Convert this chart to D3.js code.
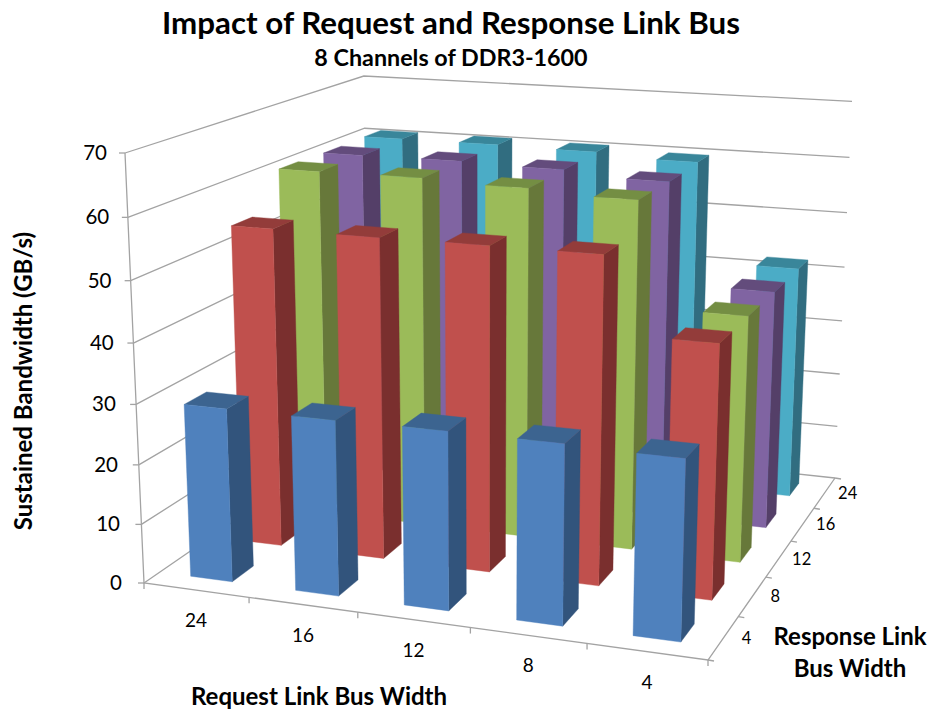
<!DOCTYPE html>
<html>
<head>
<meta charset="utf-8">
<script src="https://cdnjs.cloudflare.com/ajax/libs/d3/7.8.5/d3.min.js"></script>
<style>
html,body{margin:0;padding:0;background:#fff}
text{font-family:Lato,"Open Sans",sans-serif;fill:#000}
</style>
</head>
<body>
<svg id="chart" width="932" height="711"></svg>
<script>
// Category labels along the two floor axes
const requestWidths = ["24", "16", "12", "8", "4"];
const responseWidths = ["4", "8", "12", "16", "24"];
const valueTicks = [0, 10, 20, 30, 40, 50, 60, 70];

// Sustained bandwidth (GB/s), one list per response link width, ordered by request width
const response4 = [29.1, 29.1, 29.3, 29.3, 29];
const response8 = [54.5, 54.4, 54.5, 54.5, 42];
const response12 = [60.8, 60.9, 60.4, 59.7, 42];
const response16 = [60.6, 60.7, 60.4, 59.5, 41.9];
const response24 = [60.7, 60.7, 60.5, 59.8, 42];
const seriesValues = [response4, response8, response12, response16, response24];

// Face colours per series: front, side, top
const seriesColors = [
  ["#4f81bd", "#32547c", "#3c6490"],
  ["#c0504d", "#7a2f2e", "#933c3a"],
  ["#9bbb59", "#67783a", "#748e43"],
  ["#8064a2", "#543f68", "#634c7c"],
  ["#4bacc6", "#316d80", "#39869a"]
];

// Image positions of the plot box corners, used to set up the perspective
const cornerOrigin = [144, 583];
const cornerRight = [708, 660];
const cornerBack = [369, 428];
const cornerTop = [125, 153];
const cornerFloorFar = [835, 478];
const cornerTopFar = [852, 100];

function makeProjection(O, U, V, W, R, T) {
  // Denominator terms come from the far floor corner and the far top corner
  const a1 = R[0] - U[0], b1 = R[0] - V[0], c1 = U[0] + V[0] - O[0] - R[0];
  const a2 = R[1] - U[1], b2 = R[1] - V[1], c2 = U[1] + V[1] - O[1] - R[1];
  const det = a1 * b2 - a2 * b1;
  const i = (c1 * b2 - c2 * b1) / det;
  const j = (a1 * c2 - a2 * c1) / det;
  const k = (U[0] * (i + 1) + V[0] * (j + 1) + W[0] - 2 * O[0] - T[0] * (i + j + 1)) / (T[0] - W[0]);
  const row = d => [
    U[d] * (i + 1) - O[d],
    V[d] * (j + 1) - O[d],
    W[d] * (k + 1) - O[d],
    O[d]
  ];
  const px = row(0), py = row(1);
  return (u, v, w) => {
    const q = i * u + j * v + k * w + 1;
    return [
      (px[0] * u + px[1] * v + px[2] * w + px[3]) / q,
      (py[0] * u + py[1] * v + py[2] * w + py[3]) / q
    ];
  };
}

const project = makeProjection(cornerOrigin, cornerRight, cornerBack, cornerTop, cornerFloorFar, cornerTopFar);

const uScale = d3.scaleBand().domain(d3.range(requestWidths.length)).range([0, 1]);
const vScale = d3.scaleBand().domain(d3.range(responseWidths.length)).range([0, 1]);
const wScale = d3.scaleLinear().domain([0, 70]).range([0, 1]);

const barWidth = uScale.bandwidth() * 0.4;
const barDepth = vScale.bandwidth() * 0.42;

const svg = d3.select("#chart");
const polyline = d3.line();
const gridColor = "#a3a3a3";

// Walls: each gridline runs along the left wall and then across the back wall
const grid = svg.append("g").attr("fill", "none").attr("stroke", gridColor).attr("stroke-width", 1.3);
valueTicks.forEach(t => {
  const w = wScale(t);
  grid.append("path").attr("d", polyline([project(0, 0, w), project(0, 1, w), project(1, 1, w)]));
  const p = project(0, 0, w);
  grid.append("path").attr("d", polyline([[p[0] - 6, p[1]], p]));
});

// Axis lines and tick marks
const axes = svg.append("g").attr("fill", "none").attr("stroke", gridColor).attr("stroke-width", 1.3);
axes.append("path").attr("d", polyline([project(0, 0, 1), project(0, 0, 0), project(1, 0, 0), project(1, 1, 0)]));
d3.range(requestWidths.length + 1).forEach(n => {
  const p = project(n / requestWidths.length, 0, 0);
  axes.append("path").attr("d", polyline([p, [p[0], p[1] + 6]]));
});
d3.range(responseWidths.length + 1).forEach(n => {
  const p = project(1, n / responseWidths.length, 0);
  axes.append("path").attr("d", polyline([p, [p[0] + 6, p[1] + 1]]));
});

// Columns, painted from the back row forward and left to right
const bars = svg.append("g");
d3.range(responseWidths.length).reverse().forEach(s => {
  requestWidths.forEach((_, c) => {
    const u0 = uScale(c) + (uScale.bandwidth() - barWidth) / 2, u1 = u0 + barWidth;
    const v0 = vScale(s) + (vScale.bandwidth() - barDepth) / 2, v1 = v0 + barDepth;
    const h = wScale(seriesValues[s][c]);
    const [front, side, top] = seriesColors[s];
    const face = (pts, fill) => bars.append("path")
      .attr("d", polyline(pts) + "Z").attr("fill", fill).attr("stroke", fill).attr("stroke-width", 0.4);
    face([project(u1, v0, 0), project(u1, v1, 0), project(u1, v1, h), project(u1, v0, h)], side);
    face([project(u0, v0, h), project(u1, v0, h), project(u1, v1, h), project(u0, v1, h)], top);
    face([project(u0, v0, 0), project(u1, v0, 0), project(u1, v0, h), project(u0, v0, h)], front);
  });
});

// Value axis labels
valueTicks.forEach(t => {
  const p = project(0, 0, wScale(t));
  svg.append("text").attr("x", p[0] - 18 - 4 * (1 - wScale(t))).attr("y", p[1] + 7)
    .attr("text-anchor", "end").attr("font-size", 20.5).text(t);
});

// Floor axis labels
requestWidths.forEach((d, n) => {
  const p = project(uScale(n) + uScale.bandwidth() / 2, 0, 0);
  svg.append("text").attr("x", p[0]).attr("y", p[1] + 37)
    .attr("text-anchor", "middle").attr("font-size", 19).text(d);
});
responseWidths.forEach((d, n) => {
  const p = project(1, vScale(n) + vScale.bandwidth() / 2, 0);
  svg.append("text").attr("x", p[0] + 23).attr("y", p[1] + 6)
    .attr("text-anchor", "middle").attr("font-size", 16.5).text(d);
});

// Titles
const label = (x, y, size, str) => svg.append("text").attr("x", x).attr("y", y)
  .attr("text-anchor", "middle").attr("font-size", size).attr("font-weight", 700).text(str);
label(451, 34, 31.3, "Impact of Request and Response Link Bus");
label(451, 66, 23.3, "8 Channels of DDR3-1600");
label(319, 705, 24, "Request Link Bus Width");
label(850, 645, 24, "Response Link");
label(850, 677, 24, "Bus Width");
svg.append("text").attr("transform", "translate(32,381) rotate(-90)")
  .attr("text-anchor", "middle").attr("font-size", 24).attr("font-weight", 700)
  .text("Sustained Bandwidth (GB/s)");
</script>
</body>
</html>
